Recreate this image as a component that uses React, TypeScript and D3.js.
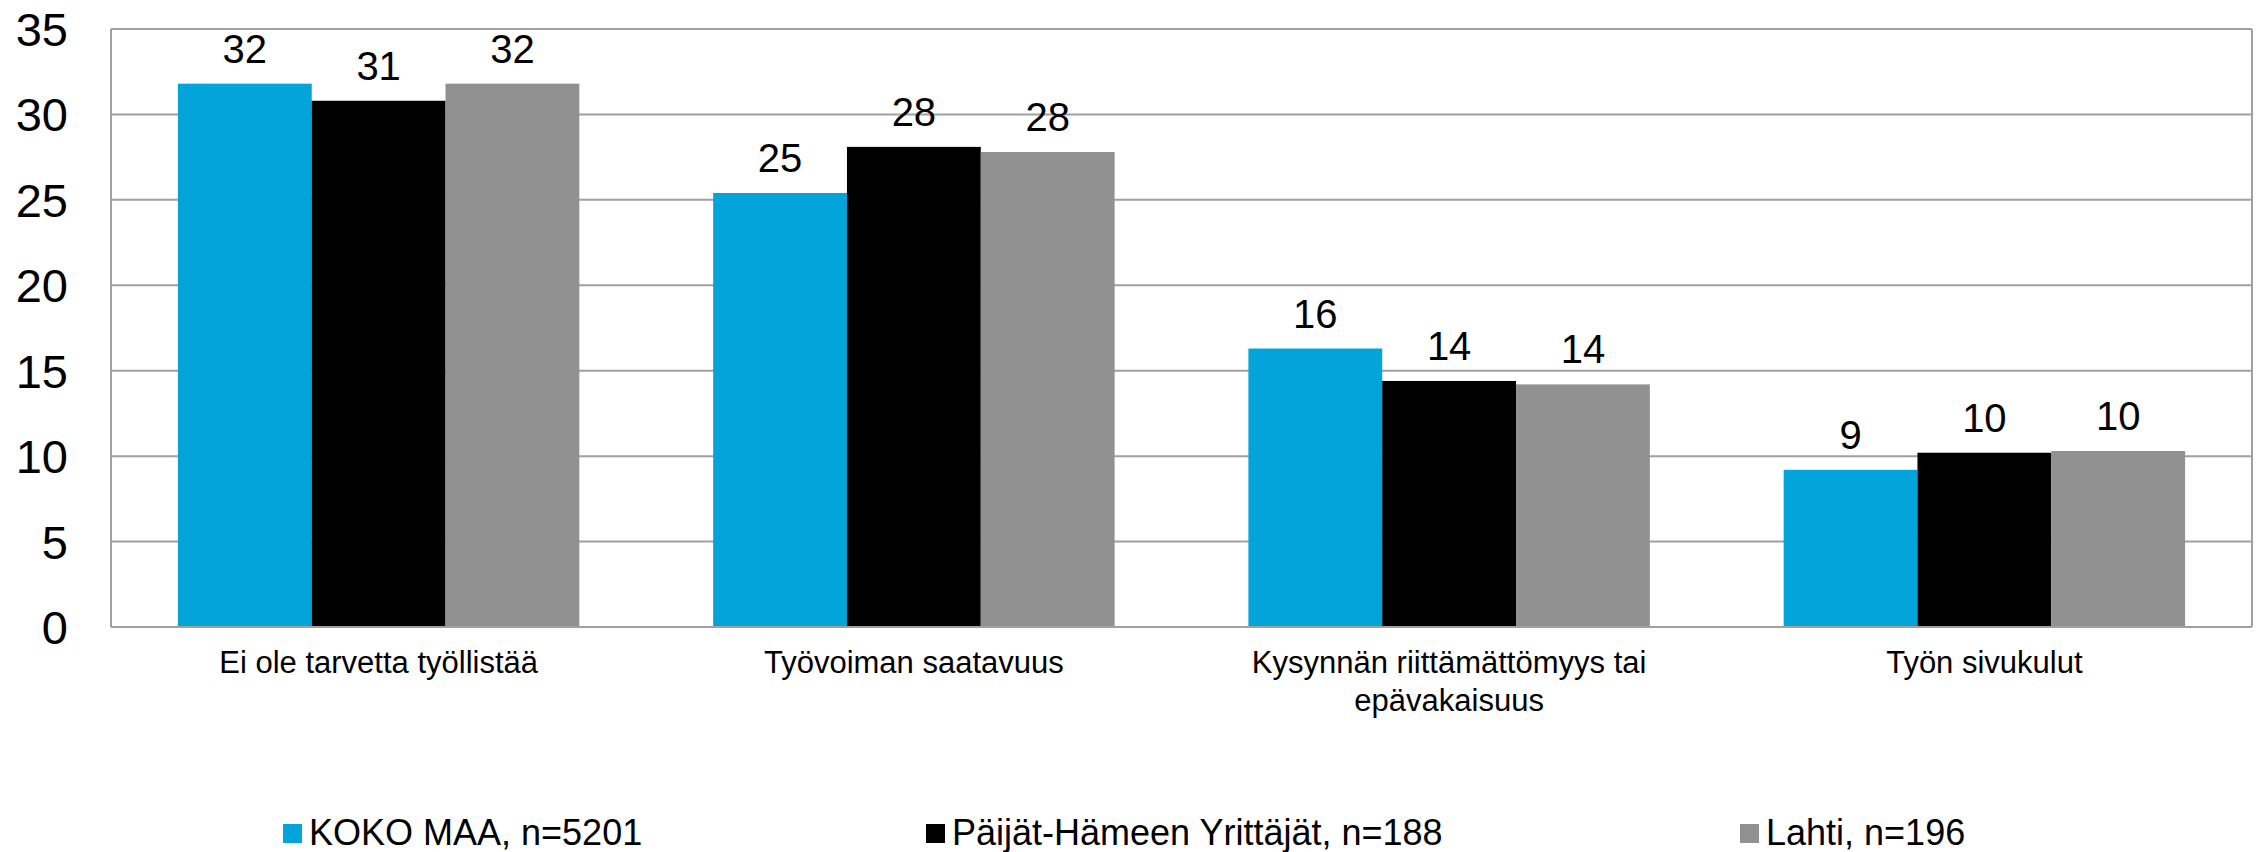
import React, { useEffect, useRef } from "react";
import * as d3 from "d3";

// Chart data
const categories = [
  "Ei ole tarvetta työllistää",
  "Työvoiman saatavuus",
  "Kysynnän riittämättömyys tai epävakaisuus",
  "Työn sivukulut",
];
const categoryLines = [
  ["Ei ole tarvetta työllistää"],
  ["Työvoiman saatavuus"],
  ["Kysynnän riittämättömyys tai", "epävakaisuus"],
  ["Työn sivukulut"],
];
const seriesNames = [
  "KOKO MAA, n=5201",
  "Päijät-Hämeen Yrittäjät, n=188",
  "Lahti, n=196",
];
const kokoMaa = [31.8, 25.4, 16.3, 9.2];
const paijatHame = [30.8, 28.1, 14.4, 10.2];
const lahti = [31.8, 27.8, 14.2, 10.3];
const yTicks = [0, 5, 10, 15, 20, 25, 30, 35];

const seriesValues = [kokoMaa, paijatHame, lahti];
const colors = ["#02a4d9", "#000000", "#919191"];

const App = () => {
  const svgRef = useRef<SVGSVGElement>(null);

  useEffect(() => {
    const width = 2260;
    const height = 852;
    const plot = { left: 111, right: 2252, top: 29, bottom: 627 };
    const font = "'Liberation Sans', Arial, sans-serif";

    const svg = d3.select(svgRef.current);
    svg.selectAll("*").remove();
    svg.attr("width", width).attr("height", height);

    const x0 = d3
      .scaleBand()
      .domain(categories)
      .range([plot.left, plot.right])
      .padding(0);

    const x1 = d3
      .scaleBand()
      .domain(seriesNames)
      .range([0, x0.bandwidth()])
      .paddingInner(0)
      .paddingOuter(0.5);

    const y = d3.scaleLinear().domain([0, 35]).range([plot.bottom, plot.top]);

    // grid lines
    svg
      .append("g")
      .selectAll("line")
      .data(yTicks)
      .enter()
      .append("line")
      .attr("x1", plot.left)
      .attr("x2", plot.right)
      .attr("y1", (d) => y(d))
      .attr("y2", (d) => y(d))
      .attr("stroke", "#a0a0a0")
      .attr("stroke-width", 2);

    // frame left / right
    [plot.left, plot.right].forEach((xx) => {
      svg
        .append("line")
        .attr("x1", xx)
        .attr("x2", xx)
        .attr("y1", y(35))
        .attr("y2", y(0))
        .attr("stroke", "#a0a0a0")
        .attr("stroke-width", 2);
    });

    // y tick labels
    svg
      .append("g")
      .selectAll("text")
      .data(yTicks)
      .enter()
      .append("text")
      .attr("x", 68)
      .attr("y", (d) => y(d) + 17)
      .attr("text-anchor", "end")
      .style("font-family", font)
      .style("font-size", "47px")
      .style("fill", "#000")
      .text((d) => d);

    // bars
    const groups = svg
      .append("g")
      .selectAll("g")
      .data(categories)
      .enter()
      .append("g")
      .attr("transform", (d) => `translate(${x0(d)},0)`);

    groups
      .selectAll("rect")
      .data((d, i) => seriesNames.map((s, j) => ({ s, j, v: seriesValues[j][i] })))
      .enter()
      .append("rect")
      .attr("x", (d) => x1(d.s)!)
      .attr("y", (d) => y(d.v))
      .attr("width", x1.bandwidth())
      .attr("height", (d) => y(0) - y(d.v))
      .attr("fill", (d) => colors[d.j]);

    groups
      .selectAll("text")
      .data((d, i) => seriesNames.map((s, j) => ({ s, j, v: seriesValues[j][i] })))
      .enter()
      .append("text")
      .attr("x", (d) => x1(d.s)! + x1.bandwidth() / 2)
      .attr("y", (d) => y(d.v) - 21)
      .attr("text-anchor", "middle")
      .style("font-family", font)
      .style("font-size", "40px")
      .style("fill", "#000")
      .text((d) => Math.round(d.v));

    // bottom axis line
    svg
      .append("line")
      .attr("x1", plot.left)
      .attr("x2", plot.right)
      .attr("y1", y(0))
      .attr("y2", y(0))
      .attr("stroke", "#a0a0a0")
      .attr("stroke-width", 2);

    // category labels
    categories.forEach((c, i) => {
      const t = svg
        .append("text")
        .attr("x", x0(c)! + x0.bandwidth() / 2)
        .attr("y", 673)
        .attr("text-anchor", "middle")
        .style("font-family", font)
        .style("font-size", "31px")
        .style("fill", "#000");
      categoryLines[i].forEach((line, k) => {
        t.append("tspan")
          .attr("x", x0(c)! + x0.bandwidth() / 2)
          .attr("dy", k === 0 ? 0 : 38)
          .text(line);
      });
    });

    // legend
    const legendX = [283, 926, 1740];
    const legend = svg.append("g");
    seriesNames.forEach((s, i) => {
      legend
        .append("rect")
        .attr("x", legendX[i])
        .attr("y", 824)
        .attr("width", 19)
        .attr("height", 19)
        .attr("fill", colors[i]);
      legend
        .append("text")
        .attr("x", legendX[i] + 26)
        .attr("y", 845)
        .style("font-family", font)
        .style("font-size", "36px")
        .style("fill", "#000")
        .text(s);
    });
  }, []);

  return (
    <div style={{ position: "absolute", left: 0, top: 0, background: "#fff" }}>
      <svg ref={svgRef} style={{ display: "block" }} />
    </div>
  );
};

export default App;
